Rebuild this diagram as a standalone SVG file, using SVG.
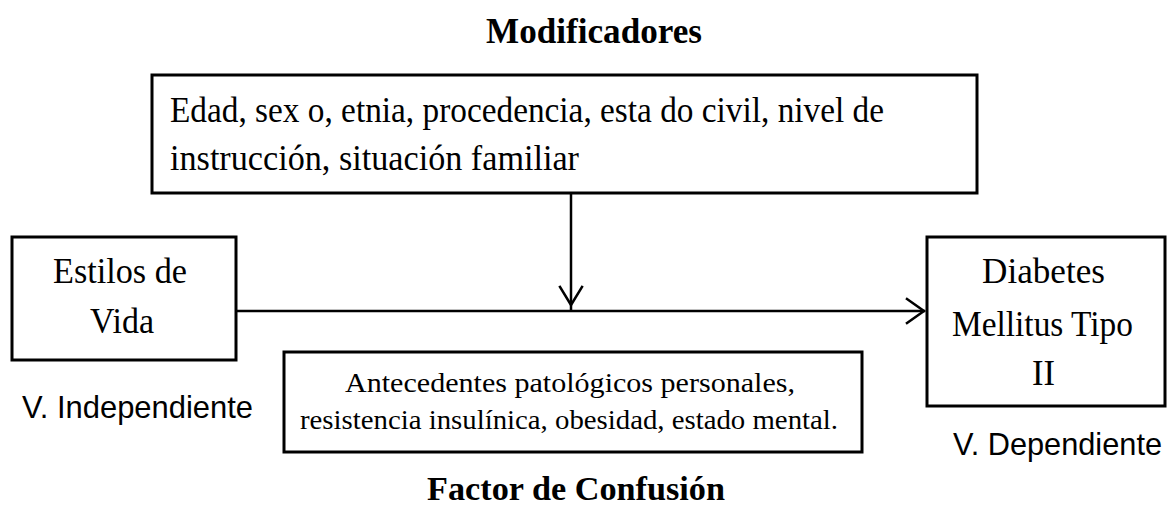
<svg xmlns="http://www.w3.org/2000/svg" width="1167" height="505" viewBox="0 0 1167 505">
<defs>
<style>
.box{fill:#fff;stroke:#000;stroke-width:3}
.serif{font-family:"Liberation Serif","Times New Roman",serif;fill:#000}
.bold{font-weight:bold}
.sans{font-family:"Liberation Sans",Arial,sans-serif;fill:#000}
.line{stroke:#000;stroke-width:2.5;fill:none}
.head{stroke:#000;stroke-width:2.5;fill:none;stroke-linecap:square}
</style>
</defs>
<rect width="1167" height="505" fill="#fff"/>
<text class="serif bold" x="486" y="43" font-size="36" textLength="216" lengthAdjust="spacingAndGlyphs">Modificadores</text>
<g id="modificadores">
<rect class="box" x="152" y="75" width="825" height="118"/>
<text class="serif" x="170" y="122" font-size="36" textLength="714" lengthAdjust="spacingAndGlyphs">Edad, sex o, etnia, procedencia, esta do civil,  nivel de</text>
<text class="serif" x="170" y="170" font-size="36" textLength="409" lengthAdjust="spacingAndGlyphs">instrucción, situación familiar</text>
</g>
<g id="estilos">
<rect class="box" x="12" y="237" width="224" height="123"/>
<text class="serif" x="53" y="283" font-size="36" textLength="134" lengthAdjust="spacingAndGlyphs">Estilos de</text>
<text class="serif" x="90" y="333" font-size="36" textLength="64" lengthAdjust="spacingAndGlyphs">Vida</text>
<text class="sans" x="22" y="418" font-size="30.5" textLength="231" lengthAdjust="spacingAndGlyphs">V. Independiente</text>
</g>
<g id="diabetes">
<rect class="box" x="927" y="237" width="238" height="169"/>
<text class="serif" x="982" y="283" font-size="36" textLength="123" lengthAdjust="spacingAndGlyphs">Diabetes</text>
<text class="serif" x="952" y="336" font-size="36" textLength="181" lengthAdjust="spacingAndGlyphs">Mellitus Tipo</text>
<text class="serif" x="1032" y="385" font-size="36" textLength="23" lengthAdjust="spacingAndGlyphs">II</text>
<text class="sans" x="953" y="455" font-size="30.5" textLength="209" lengthAdjust="spacingAndGlyphs">V. Dependiente</text>
</g>
<g id="confusion">
<rect class="box" x="284" y="352" width="578" height="100"/>
<text class="serif" x="345" y="392" font-size="28" textLength="450" lengthAdjust="spacingAndGlyphs">Antecedentes patológicos personales,</text>
<text class="serif" x="300" y="429" font-size="28" textLength="538" lengthAdjust="spacingAndGlyphs">resistencia insulínica, obesidad, estado mental.</text>
<text class="serif bold" x="427" y="500" font-size="34" textLength="298" lengthAdjust="spacingAndGlyphs">Factor de Confusión</text>
</g>
<g id="connectors">
<line class="line" x1="571" y1="193" x2="571" y2="311"/>
<polyline class="head" points="560,287 571,305 582,287"/>
<line class="line" x1="237" y1="311" x2="925" y2="311"/>
<polyline class="head" points="907,299 924,311 907,323"/>
</g>
</svg>
